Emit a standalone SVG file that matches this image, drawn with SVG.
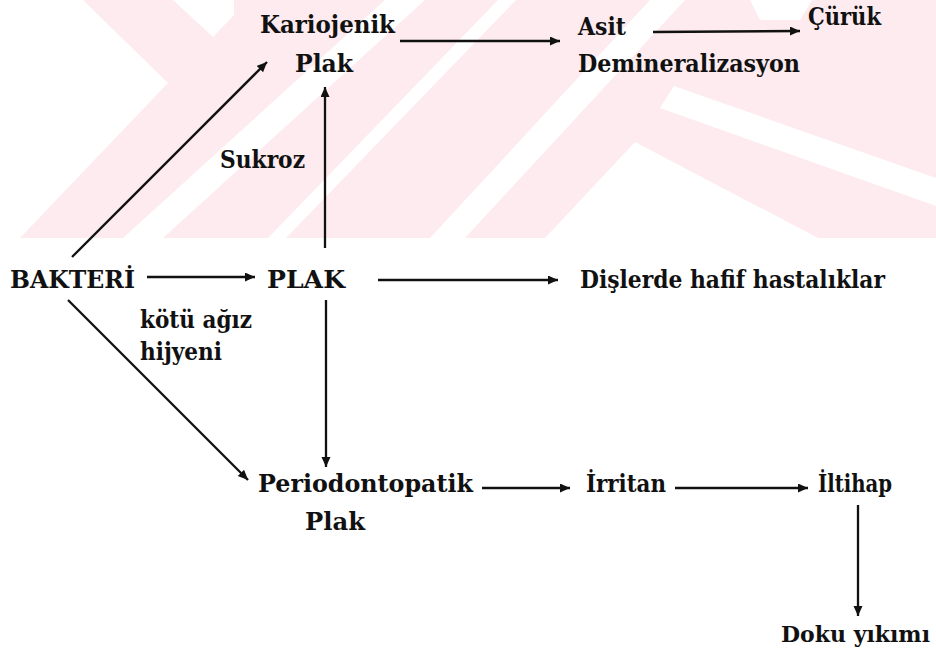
<svg xmlns="http://www.w3.org/2000/svg" width="936" height="656" viewBox="0 0 936 656">
<style>
.t{font-family:"DejaVu Serif","Liberation Serif",serif;font-size:24px;font-weight:bold;fill:#111;}
.c{stroke:#111;stroke-width:2.3;fill:none;marker-end:url(#ah);}
.wm{fill:#fdebef;}
.ww{fill:#ffffff;}
</style>
<defs>
<marker id="ah" markerUnits="userSpaceOnUse" markerWidth="12" markerHeight="10" refX="10" refY="4.5" orient="auto">
<path d="M0,0 L10,4.5 L0,9 z" fill="#111"/>
</marker>
</defs>
<rect x="0" y="0" width="936" height="656" fill="#ffffff"/>
<g id="watermark">
<rect class="wm" x="0" y="0" width="936" height="238"/>
<polygon class="ww" points="0,0 83,0 168,83 20,238 0,238"/>
<polygon class="ww" points="173,0 234,0 234,15 213,37"/>
<polygon class="ww" points="385,0 425,0 163,238 123,238"/>
<polygon class="ww" points="498,0 516,0 286,238 268,238"/>
<polygon class="ww" points="650,0 685,0 465,238 430,238"/>
<polygon class="ww" points="674,86 936,178 936,206 660,108"/>
<polygon class="ww" points="635,142 818,238 545,238"/>
<polygon class="ww" points="750,0 812,0 800,20 760,20"/>
</g>
<g id="connectors">
<line class="c" x1="400" y1="41" x2="560" y2="41"/>
<line class="c" x1="653" y1="32" x2="800" y2="31"/>
<line class="c" x1="72" y1="257" x2="267" y2="62"/>
<line class="c" x1="325" y1="248" x2="325" y2="87"/>
<line class="c" x1="147" y1="277" x2="255" y2="277"/>
<line class="c" x1="378" y1="280" x2="558" y2="280"/>
<line class="c" x1="68" y1="300" x2="248" y2="480"/>
<line class="c" x1="326" y1="300" x2="326" y2="467"/>
<line class="c" x1="482" y1="488" x2="570" y2="488"/>
<line class="c" x1="675" y1="488" x2="808" y2="488"/>
<line class="c" x1="858" y1="505" x2="858" y2="616"/>
</g>
<g id="kariojenik"><text class="t" x="260" y="33" textLength="135" lengthAdjust="spacingAndGlyphs">Kariojenik</text><text class="t" x="295" y="72" textLength="58" lengthAdjust="spacingAndGlyphs">Plak</text></g>
<g id="asit"><text class="t" x="578" y="35" textLength="48" lengthAdjust="spacingAndGlyphs">Asit</text><text class="t" x="578" y="72" textLength="222" lengthAdjust="spacingAndGlyphs">Demineralizasyon</text></g>
<g id="curuk"><text class="t" x="808" y="25" textLength="73" lengthAdjust="spacingAndGlyphs">Çürük</text></g>
<g id="sukroz"><text class="t" x="220" y="168" textLength="85" lengthAdjust="spacingAndGlyphs">Sukroz</text></g>
<g id="bakteri"><text class="t" x="10" y="288" textLength="125" lengthAdjust="spacingAndGlyphs">BAKTERİ</text></g>
<g id="plak"><text class="t" x="267" y="288" textLength="78" lengthAdjust="spacingAndGlyphs">PLAK</text></g>
<g id="dislerde"><text class="t" x="580" y="288" textLength="305" lengthAdjust="spacingAndGlyphs">Dişlerde hafif hastalıklar</text></g>
<g id="kotu"><text class="t" x="140" y="328" textLength="112" lengthAdjust="spacingAndGlyphs">kötü ağız</text><text class="t" x="140" y="360" textLength="82" lengthAdjust="spacingAndGlyphs">hijyeni</text></g>
<g id="periodontopatik"><text class="t" x="258" y="492" textLength="215" lengthAdjust="spacingAndGlyphs">Periodontopatik</text><text class="t" x="305" y="530" textLength="60" lengthAdjust="spacingAndGlyphs">Plak</text></g>
<g id="irritan"><text class="t" x="586" y="492" textLength="80" lengthAdjust="spacingAndGlyphs">İrritan</text></g>
<g id="iltihap"><text class="t" x="818" y="492" textLength="74" lengthAdjust="spacingAndGlyphs">İltihap</text></g>
<g id="doku"><text class="t" x="781" y="642" style="font-size:22px" textLength="149" lengthAdjust="spacingAndGlyphs">Doku yıkımı</text></g>
</svg>
